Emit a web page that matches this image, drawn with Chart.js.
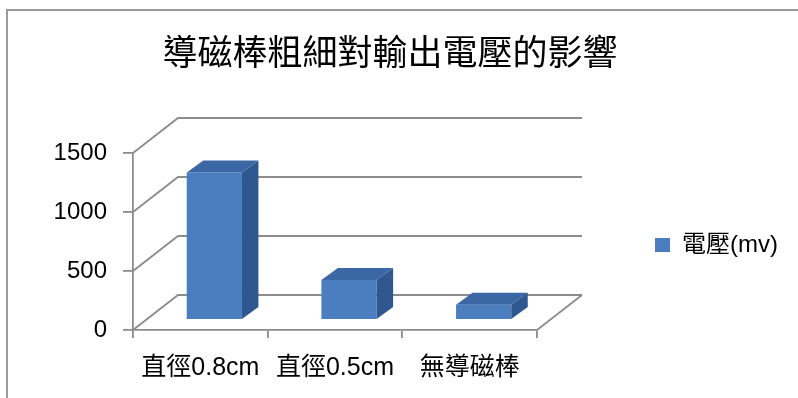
<!DOCTYPE html>
<html>
<head>
<meta charset="utf-8">
<script src="https://cdn.jsdelivr.net/npm/chart.js@4.4.1/dist/chart.umd.min.js"></script>
<style>
  html, body { margin: 0; padding: 0; background: #ffffff; }
  canvas { display: block; }
</style>
</head>
<body>
<canvas id="c" width="798" height="398"></canvas>
<script>
// Chart data
const titleText = '導磁棒粗細對輸出電壓的影響';
const categories = ['直徑0.8cm', '直徑0.5cm', '無導磁棒'];
const seriesLabel = '電壓(mv)';
const voltage = [1250, 340, 130];
const yTickValues = [0, 500, 1000, 1500];

// Styling
const LATIN_CJK = "'Liberation Sans', 'Noto Sans CJK TC', sans-serif";
const GRID = '#8c8c8c';
const FRONT = '#4a7ebf';
const TOP = '#3b67a5';
const SIDE = '#2f5891';
const WALL_DX = 45, WALL_DY = -35;   // depth of floor / back wall
const BAR_DX = 14, BAR_DY = -10;     // plane where the bars stand
const BAR_DEPTH_X = 16.5, BAR_DEPTH_Y = -12;

// Outer frame of the chart object
const framePlugin = {
  id: 'frame',
  beforeDraw(chart) {
    const ctx = chart.ctx;
    ctx.save();
    ctx.strokeStyle = '#9a9a9a';
    ctx.lineWidth = 2;
    ctx.beginPath();
    ctx.moveTo(7, chart.height);
    ctx.lineTo(7, 10);
    ctx.lineTo(chart.width, 10);
    ctx.stroke();
    ctx.restore();
  }
};

// Back wall, side wall gridlines, floor and the 3D faces of the bars
const depthPlugin = {
  id: 'depth',
  beforeDatasetsDraw(chart) {
    const ctx = chart.ctx;
    const x = chart.scales.x, y = chart.scales.y;
    const left = x.left, right = x.right;
    ctx.save();
    ctx.strokeStyle = GRID;
    ctx.lineWidth = 1.8;
    ctx.lineCap = 'butt';
    yTickValues.forEach(v => {
      const py = y.getPixelForValue(v);
      ctx.beginPath();
      ctx.moveTo(left, py);
      ctx.lineTo(left + WALL_DX, py + WALL_DY);
      ctx.lineTo(right + WALL_DX, py + WALL_DY);
      ctx.stroke();
    });
    const base = y.getPixelForValue(0);
    ctx.beginPath();
    ctx.moveTo(right, base);
    ctx.lineTo(right + WALL_DX, base + WALL_DY);
    ctx.stroke();
    ctx.restore();

    ctx.save();
    ctx.translate(BAR_DX, BAR_DY);
  },
  afterDatasetsDraw(chart) {
    const ctx = chart.ctx;
    chart.getDatasetMeta(0).data.forEach(bar => {
      const { x, y, base, width } = bar.getProps(['x', 'y', 'base', 'width'], true);
      const l = x - width / 2, r = x + width / 2;
      ctx.fillStyle = TOP;
      ctx.beginPath();
      ctx.moveTo(l, y);
      ctx.lineTo(l + BAR_DEPTH_X, y + BAR_DEPTH_Y);
      ctx.lineTo(r + BAR_DEPTH_X, y + BAR_DEPTH_Y);
      ctx.lineTo(r, y);
      ctx.closePath();
      ctx.fill();
      ctx.fillStyle = SIDE;
      ctx.beginPath();
      ctx.moveTo(r, y);
      ctx.lineTo(r + BAR_DEPTH_X, y + BAR_DEPTH_Y);
      ctx.lineTo(r + BAR_DEPTH_X, base + BAR_DEPTH_Y);
      ctx.lineTo(r, base);
      ctx.closePath();
      ctx.fill();
    });
    ctx.restore();
  }
};

new Chart(document.getElementById('c'), {
  type: 'bar',
  data: {
    labels: categories,
    datasets: [{
      label: seriesLabel,
      data: voltage,
      backgroundColor: FRONT,
      borderWidth: 0,
      barPercentage: 0.41,
      categoryPercentage: 1.0,
      clip: false
    }]
  },
  options: {
    responsive: false,
    animation: false,
    layout: { padding: { left: 0, right: 18, top: 0, bottom: 0 } },
    plugins: {
      title: {
        display: true,
        text: titleText,
        color: '#000',
        font: { family: "'Noto Sans CJK TC', sans-serif", size: 35, weight: 'normal', lineHeight: 1 },
        padding: { top: 34, bottom: 84 }
      },
      legend: {
        display: true,
        position: 'right',
        align: 'start',
        maxWidth: 243,
        // empty legend title used as a vertical spacer above the entry
        title: { display: true, text: '', font: { size: 10, lineHeight: 1 }, padding: { top: 0, bottom: 105 } },
        labels: {
          color: '#000',
          boxWidth: 15,
          boxHeight: 14,
          padding: 118,
          font: { family: LATIN_CJK, size: 24 }
        }
      },
      tooltip: { enabled: false }
    },
    scales: {
      x: {
        afterFit(scale) { scale.height = 68; },
        grid: { display: true, drawOnChartArea: false, drawTicks: true, tickLength: 8, color: GRID, lineWidth: 1.8, offset: true },
        border: { display: true, color: GRID, width: 1.8 },
        ticks: { color: '#000', padding: 15, maxRotation: 0, font: { family: LATIN_CJK, size: 25 } }
      },
      y: {
        min: 0,
        max: 1500,
        afterFit(scale) { scale.width = 133; },
        grid: { display: true, drawOnChartArea: false, drawTicks: true, tickLength: 10, color: GRID, lineWidth: 1.8 },
        border: { display: true, color: GRID, width: 1.8 },
        ticks: {
          stepSize: 500,
          color: '#000',
          padding: 16,
          font: { family: LATIN_CJK, size: 24 },
          callback: v => String(v)
        }
      }
    }
  },
  plugins: [framePlugin, depthPlugin]
});
</script>
</body>
</html>
